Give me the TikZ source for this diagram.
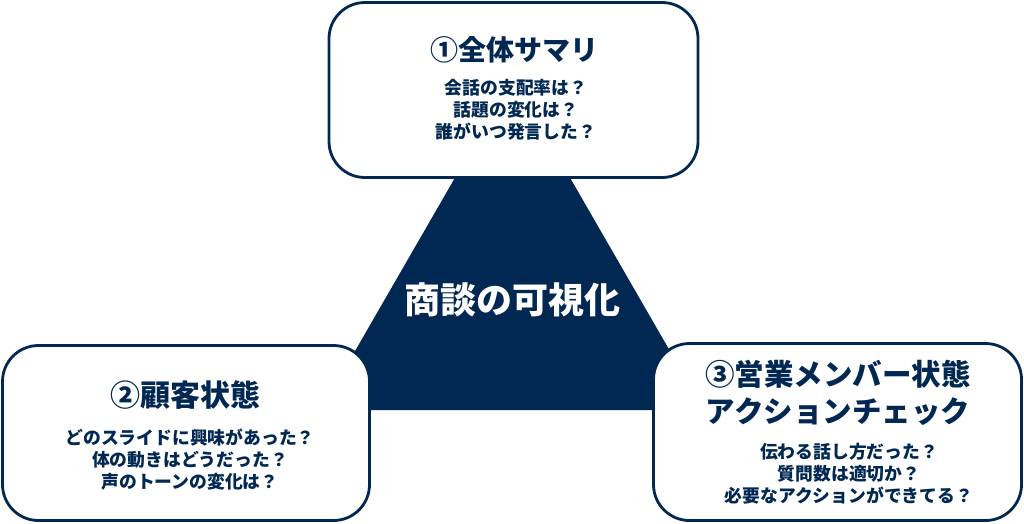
\documentclass[tikz,border=0pt]{standalone}
\usepackage{fontspec}
\newfontfamily\jp{Noto Sans CJK JP}
\definecolor{navy}{RGB}{1,40,82}
\begin{document}
\begin{tikzpicture}[x=1pt,y=-1pt,
  box/.style={draw=navy,line width=2.8pt,fill=white,rounded corners=36pt,inner sep=0pt},
  ttl/.style={text=navy,font=\jp\bfseries\fontsize{28}{37}\selectfont,align=center,inner sep=0pt},
  sub/.style={text=navy,font=\jp\bfseries\fontsize{17.8}{22}\selectfont,align=center,inner sep=0pt}]
\useasboundingbox (0,0) rectangle (1024,523);
\fill[navy] (512.5,78) -- (704,410) -- (321,410) -- cycle;
\node[text=white,font=\jp\bfseries\fontsize{36}{40}\selectfont,inner sep=0pt] (center) at (512,300) {商談の可視化};
\node[box,minimum width=369pt,minimum height=175pt] (top) at (513.5,90) {};
\node[box,minimum width=367pt,minimum height=175pt] (left) at (186,433) {};
\node[box,minimum width=368pt,minimum height=177pt] (right) at (837.5,432) {};
\node[ttl] (t1) at (514,50) {①全体サマリ};
\node[sub] (s1) at (516,110) {会話の支配率は？\\話題の変化は？\\誰がいつ発言した？};
\node[ttl,font=\jp\bfseries\fontsize{30}{37}\selectfont] (t2) at (185,395) {②顧客状態};
\node[sub] (s2) at (190,460) {どのスライドに興味があった？\\体の動きはどうだった？\\声のトーンの変化は？};
\node[ttl,font=\jp\bfseries\fontsize{29.5}{37}\selectfont] (t3) at (838,393) {③営業メンバー状態\\アクションチェック};
\node[sub] (s3) at (849,474) {伝わる話し方だった？\\質問数は適切か？\\必要なアクションができてる？};
\end{tikzpicture}
\end{document}
